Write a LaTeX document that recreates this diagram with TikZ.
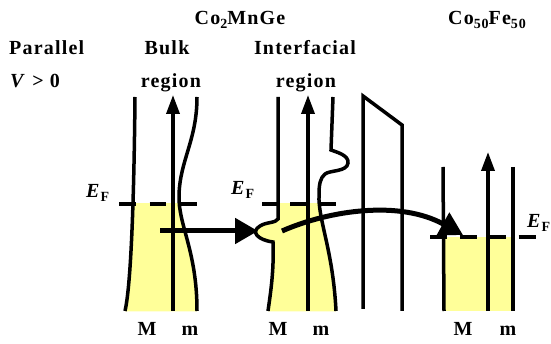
\documentclass[tikz,border=0pt]{standalone}
\usepackage{fontspec}
\setmainfont{Liberation Serif}[LetterSpace=6]
\usetikzlibrary{arrows.meta}
\definecolor{fermi}{RGB}{255,255,153}
\newcommand\lowsub[1]{\raisebox{-3.8pt}{\fontsize{14}{14}\selectfont #1}}
\begin{document}
\begin{tikzpicture}[x=1pt,y=-1pt,
  band/.style={line width=3.5pt},
  fermiline/.style={line width=3.5pt},
  upspin/.style={line width=3.5pt,-{Triangle[length=19pt,width=13pt]}},
  tunnel/.style={line width=5pt,-{Triangle[length=23pt,width=25pt]}},
  lbl/.style={font=\fontsize{20}{23}\selectfont\bfseries, inner sep=0pt},
]
\useasboundingbox (0,0) rectangle (551,344);

% ---------- yellow filled states ----------
\begin{scope}
  \clip (0,204) rectangle (551,311.5);
  \fill[fermi] (135,97) .. controls (134,200) and (131,285) .. (125,311.5)
     -- (197,311.5) -- (197,310) .. controls (197,250) and (178,225) .. (179,195)
     .. controls (180,160) and (197,140) .. (197,97) -- cycle;
  \fill[fermi] (278,97) -- (278,219) .. controls (276,223) and (266,222) .. (260,226)
     .. controls (250,232) and (258,240) .. (273,242)
     .. controls (274,270) and (271,290) .. (268,311.5)
     -- (336,311.5) .. controls (333,250) and (318,220) .. (319,195) -- (319,97) -- cycle;
\end{scope}
\fill[fermi] (443,237) rectangle (513,311.5);

% ---------- bulk region ----------
\draw[band] (135,97) .. controls (134,200) and (131,285) .. (125,311);
\draw[band] (197,97) .. controls (197,140) and (180,160) .. (179,195)
   .. controls (178,225) and (197,250) .. (197,311);
\coordinate (bu0) at (173,311);
\coordinate (bu1) at (173,95);
\draw[upspin] (bu0) -- (bu1);
\foreach \a in {119,149.5,180}{\draw[fermiline] (\a,204) -- +(16.5,0);}

% ---------- interfacial region ----------
\draw[band] (278,97) -- (278,219) .. controls (276,223) and (266,222) .. (260,226)
   .. controls (250,232) and (258,240) .. (273,242)
   .. controls (274,270) and (271,290) .. (268,311);
\draw[band] (333,97) -- (331,150) .. controls (336,152) and (349,155) .. (348,163)
   .. controls (347,172) and (330,170) .. (325,174)
   .. controls (320,178) and (319,185) .. (319,195)
   .. controls (318,220) and (333,250) .. (336,311);
\coordinate (iu0) at (308,311);
\coordinate (iu1) at (308,95);
\draw[upspin] (iu0) -- (iu1);
\foreach \a in {262,290,318}{\draw[fermiline] (\a,204) -- +(18,0);}

% ---------- barrier ----------
\draw[band, line join=miter] (363,309) -- (363,96) -- (402,125) -- (402,311);

% ---------- Co50Fe50 ----------
\draw[band] (443,167) -- (444,311);
\draw[band] (513,167) -- (513,311);
\coordinate (cu0) at (488,311);
\coordinate (cu1) at (488,152);
\draw[upspin] (cu0) -- (cu1);
\foreach \a in {430,459.5,489,518.5}{\draw[fermiline] (\a,237) -- +(17,0);}

% ---------- tunnelling arrows ----------
\coordinate (t0) at (160,231);
\coordinate (t1) at (258,231);
\draw[tunnel] (t0) -- (t1);
\coordinate (s0) at (282,231);
\coordinate (s1) at (463,235);
\draw[tunnel] (s0) .. controls (330,210) and (400,200) .. (s1);

% ---------- labels ----------
\node[lbl,anchor=base west] (par) at (9,55) {Parallel};
\node[lbl,anchor=base west] (vol) at (10,88) {\textit{V} > 0};
\node[lbl,anchor=base] (cmg) at (240,25) {Co\lowsub{2}MnGe};
\node[lbl,anchor=base] (bulk) at (167,55) {Bulk};
\node[lbl,anchor=base] (breg) at (171,88) {region};
\node[lbl,anchor=base] (intf) at (305,55) {Interfacial};
\node[lbl,anchor=base] (ireg) at (306,88) {region};
\node[lbl,anchor=base] (cf) at (487,25) {Co\lowsub{50}Fe\lowsub{50}};

\node[lbl,anchor=base west] (ef1) at (86,198) {\textit{E}\lowsub{F}};
\node[lbl,anchor=base west] (ef2) at (231,195) {\textit{E}\lowsub{F}};
\node[lbl,anchor=base west] (ef3) at (527,228) {\textit{E}\lowsub{F}};

\node[lbl,anchor=base] (m1) at (147,335) {M};
\node[lbl,anchor=base] (s1l) at (190,335) {m};
\node[lbl,anchor=base] (m2) at (278,335) {M};
\node[lbl,anchor=base] (s2l) at (321,335) {m};
\node[lbl,anchor=base] (m3) at (463,335) {M};
\node[lbl,anchor=base] (s3l) at (508,335) {m};
\end{tikzpicture}
\end{document}
